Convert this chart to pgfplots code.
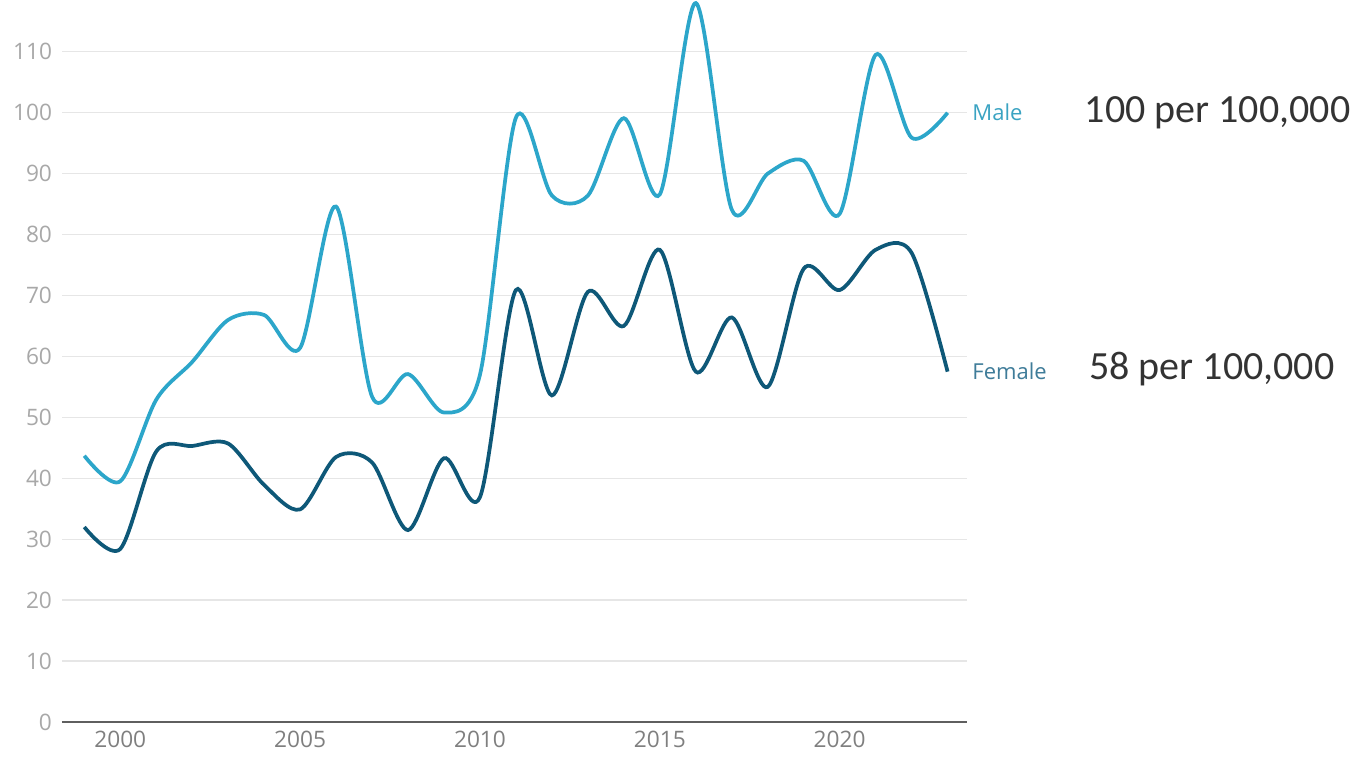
\documentclass[border=0pt]{standalone}
\usepackage{pgfplots}
\pgfplotsset{compat=1.18}
\usepackage{fontspec}
\setmainfont{Open Sans}
\newfontfamily\calib{Carlito}
\definecolor{malec}{HTML}{2CA6CA}
\definecolor{femalec}{HTML}{0E5878}
\definecolor{malelab}{HTML}{3AA3C2}
\definecolor{femalelab}{HTML}{3F7C99}
\definecolor{gridc}{HTML}{E6E6E6}
\definecolor{ytickc}{HTML}{A8A8A8}
\definecolor{xtickc}{HTML}{7F7F7F}
\definecolor{axisc}{HTML}{5F5F5F}
\definecolor{bigc}{HTML}{333333}

\begin{document}
\begin{tikzpicture}
\path[use as bounding box] (-46.5pt,-31.5pt) rectangle (981.75pt,541.5pt);
\begin{axis}[
    at={(0,0)}, anchor=south west,
    scale only axis,
    width=678.75pt, height=541.5pt,
    xmin=1998.38, xmax=2023.54,
    ymin=0, ymax=118.5,
    axis lines=left,
    y axis line style={draw=none},
    x axis line style={axisc, line width=1.5pt, -},
    xtick={2000,2005,2010,2015,2020},
    ytick={0,10,...,110},
    ymajorgrids,
    grid style={gridc, line width=1pt},
    major tick length=0pt,
    x tick label style={font=\fontsize{17}{20}\selectfont, text=xtickc, yshift=-3pt},
    y tick label style={font=\fontsize{17}{20}\selectfont, text=ytickc, xshift=-4pt},
    xticklabel style={/pgf/number format/1000 sep=},
    /pgf/number format/assume math mode=true,
    clip=false,
]
\addplot[femalec, line width=2.8pt, smooth, tension=0.5] coordinates {
(1999,32) (2000,28.4) (2001,44.4) (2002,45.3) (2003,45.7) (2004,38.9) (2005,34.9)
(2006,43.5) (2007,42.6) (2008,31.5) (2009,43.3) (2010,36.9) (2011,70.9) (2012,53.6)
(2013,70.6) (2014,65) (2015,77.5) (2016,57.5) (2017,66.4) (2018,55) (2019,74.4)
(2020,70.9) (2021,77.5) (2022,77.0) (2023,57.5)
};
\addplot[malec, line width=2.8pt, smooth, tension=0.5] coordinates {
(1999,43.7) (2000,39.5) (2001,52.9) (2002,59.1) (2003,66) (2004,66.8) (2005,61.4)
(2006,84.6) (2007,53.4) (2008,57.1) (2009,50.8) (2010,57) (2011,99.2) (2012,86.4)
(2013,86.4) (2014,99.1) (2015,86.6) (2016,118) (2017,84.1) (2018,90) (2019,92.1)
(2020,83.4) (2021,109.5) (2022,95.9) (2023,100)
};
\node[anchor=west, font=\fontsize{16.5}{20}\selectfont, text=malelab] at (axis cs:2023.56,100) {Male};
\node[anchor=west, font=\fontsize{16.5}{20}\selectfont, text=femalelab] at (axis cs:2023.56,57.5) {Female};
\node[anchor=west, font=\calib\fontsize{30}{34}\selectfont, text=bigc, inner sep=0pt] at (axis cs:2026.81,100) {100 per 100,000};
\node[anchor=west, font=\calib\fontsize{30}{34}\selectfont, text=bigc, inner sep=0pt] at (axis cs:2026.93,58) {58 per 100,000};
\end{axis}
\end{tikzpicture}
\end{document}
